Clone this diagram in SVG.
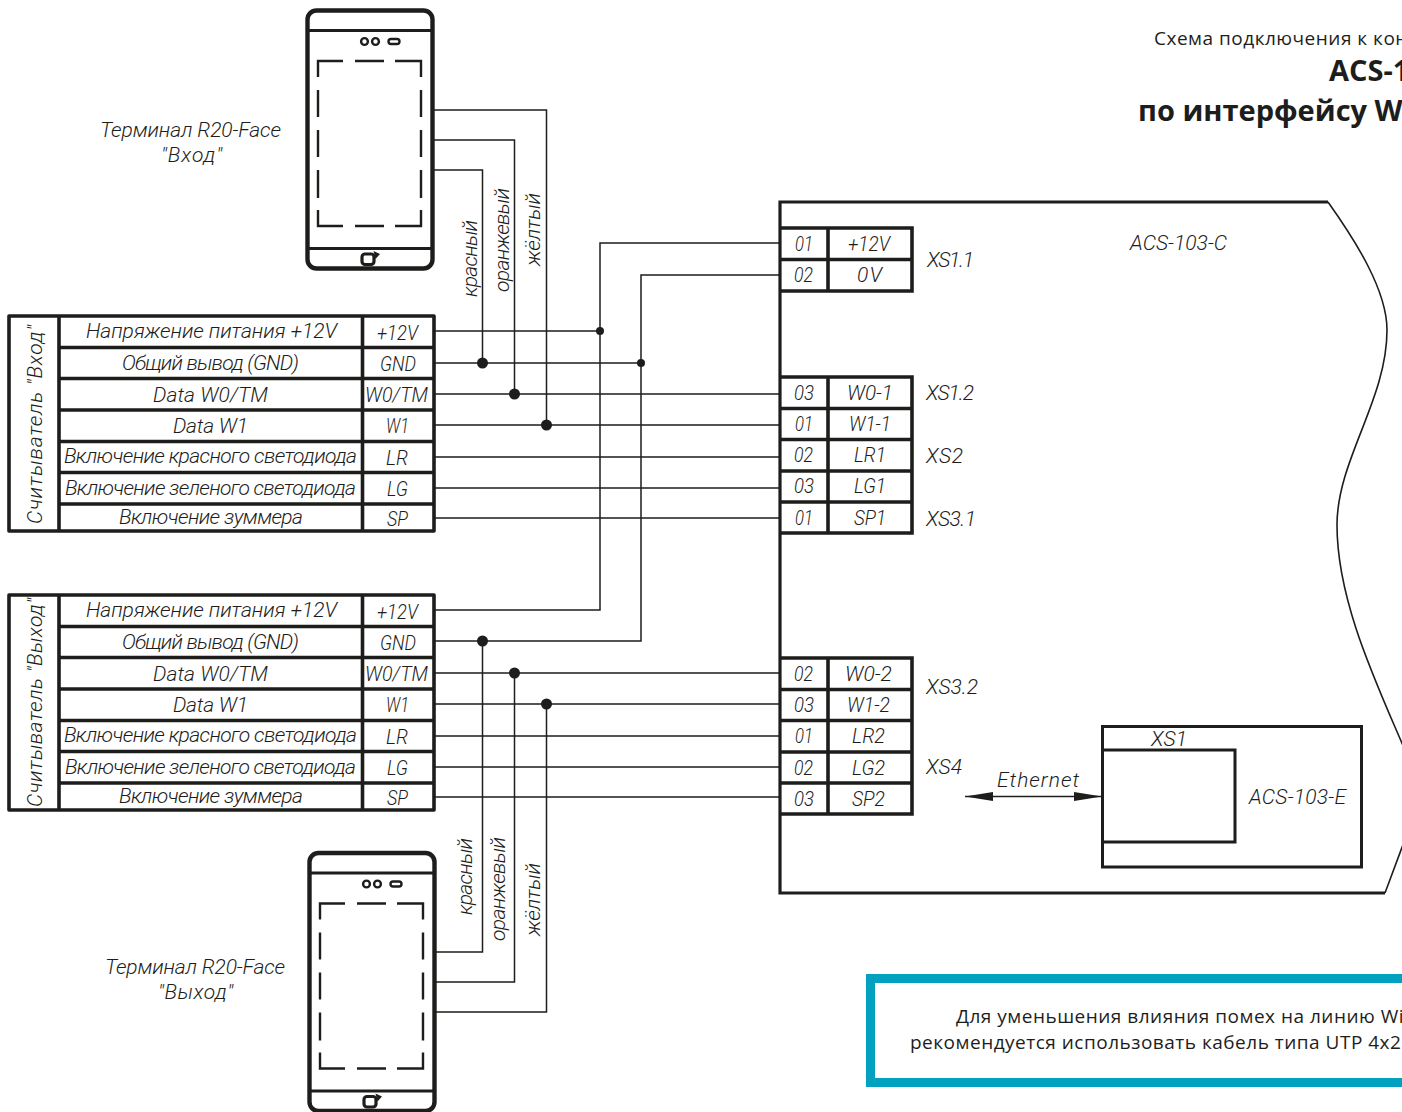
<svg xmlns="http://www.w3.org/2000/svg" width="1402" height="1112" viewBox="0 0 1402 1112">
<style>
.bg{fill:#fff}
.w{fill:none;stroke:#1d1d1b;stroke-width:1.5}
.t{fill:none;stroke:#1d1d1b;stroke-width:3.2}
.r{fill:none;stroke:#1d1d1b;stroke-width:3.6}
.b{fill:none;stroke:#1d1d1b;stroke-width:3.6;stroke-linejoin:round}
.d{fill:#1d1d1b}
text{fill:#1d1d1b}
.g{font-family:Roboto,"Liberation Sans",sans-serif;font-style:italic;font-weight:300;font-size:21px}
.h{font-family:"Open Sans","Noto Sans",sans-serif;font-size:19px;letter-spacing:.5px}
.hb{font-family:"Open Sans","Noto Sans",sans-serif;font-weight:700;font-size:29px}
</style>
<defs>
<marker id="ah" markerUnits="userSpaceOnUse" markerWidth="29" markerHeight="10" refX="28" refY="5" orient="auto-start-reverse"><path d="M0 0.500L28 5L0 9.500z" fill="#1d1d1b"/></marker>
<g id="phone">
<rect x="0" y="0" width="125" height="258" rx="9" fill="#fff" stroke="#1d1d1b" stroke-width="4.400"/>
<path d="M0 20H125M0 238H125" class="t"/>
<circle cx="57" cy="31" r="3.400" fill="none" stroke="#1d1d1b" stroke-width="2.400"/>
<circle cx="68" cy="31" r="3.400" fill="none" stroke="#1d1d1b" stroke-width="2.400"/>
<rect x="81" y="28.500" width="11" height="5" rx="2.500" fill="none" stroke="#1d1d1b" stroke-width="2.400"/>
<path d="M10.500 66.500V50.500H35.500M47.500 50.500H76.500M87.500 50.500H113.500V66.500M113.500 79.500V106.500M113.500 119.500V146.500M113.500 159.500V187.500M113.500 199.500V215.500H87.500M76.500 215.500H47.500M35.500 215.500H10.500V199.500M10.500 187.500V159.500M10.500 146.500V119.500M10.500 106.500V79.500" fill="none" stroke="#1d1d1b" stroke-width="2.400"/>
<rect x="54.500" y="243.500" width="12" height="10.500" rx="3" fill="none" stroke="#1d1d1b" stroke-width="3.200"/>
<path d="M66 240.500l6.500 3l-4.500 5z" class="d"/>
</g>
</defs>
<rect width="1402" height="1112" class="bg"/>

<g id="connectors">
<path class="w" d="M433 110H546.500V425M433 140H514.500V394M433 170H482.500V363"/>
<path class="w" d="M435 952H482.500V641M435 982H514.500V673M435 1012H546.500V704"/>
<path class="w" d="M434 331H600M434 363H641M434 394H780M434 425H780M434 457H780M434 488H780M434 518H780"/>
<path class="w" d="M434 610H600V243H780M434 641H641V275H780M434 673H780M434 704H780M434 736H780M434 767H780M434 797H780"/>
<circle class="d" cx="600" cy="331" r="4"/><circle class="d" cx="641" cy="363" r="4"/>
<circle class="d" cx="482.500" cy="363" r="5.500"/><circle class="d" cx="514.500" cy="394" r="5.500"/><circle class="d" cx="546.500" cy="425" r="5.500"/>
<circle class="d" cx="482.500" cy="641" r="5.500"/><circle class="d" cx="514.500" cy="673" r="5.500"/><circle class="d" cx="546.500" cy="704" r="5.500"/>
<path d="M965 796.500H1102" stroke="#1d1d1b" stroke-width="1.600" fill="none" marker-start="url(#ah)" marker-end="url(#ah)"/>
</g>

<g id="wire-labels" class="g">
<text transform="translate(477 297) rotate(-90)" textLength="77">красный</text>
<text transform="translate(509 292) rotate(-90)" textLength="104">оранжевый</text>
<text transform="translate(540 266) rotate(-90)" textLength="73">жёлтый</text>
<text transform="translate(472 915) rotate(-90)" textLength="77">красный</text>
<text transform="translate(505 941) rotate(-90)" textLength="104">оранжевый</text>
<text transform="translate(540 936) rotate(-90)" textLength="73">жёлтый</text>
</g>

<g id="terminal-in">
<use href="#phone" x="307.500" y="10.500"/>
<text class="g" x="100" y="137" textLength="181">Терминал R20-Face</text>
<text class="g" x="161" y="162" textLength="61">"Вход"</text>
</g>
<g id="terminal-out">
<use href="#phone" x="309.500" y="853"/>
<text class="g" x="105" y="974" textLength="180">Терминал R20-Face</text>
<text class="g" x="158" y="999" textLength="75">"Выход"</text>
</g>

<g id="reader-in">
<path class="b" d="M9 316H434V531H9z"/>
<path class="r" d="M59 316V531M362.500 316V531M59 347.500H434M59 378.500H434M59 410H434M59 441.500H434M59 472.500H434M59 504H434"/>
<text class="g" transform="translate(42 524) rotate(-90)" textLength="199">Считыватель  "Вход"</text>
<text class="g" x="86" y="338" textLength="251">Напряжение питания +12V</text>
<text class="g" x="122" y="370" textLength="177">Общий вывод (GND)</text>
<text class="g" x="153" y="402" textLength="115">Data W0/TM</text>
<text class="g" x="173" y="433" textLength="75">Data W1</text>
<text class="g" x="64" y="463" textLength="293">Включение красного светодиода</text>
<text class="g" x="65" y="495" textLength="291">Включение зеленого светодиода</text>
<text class="g" x="119" y="524" textLength="184">Включение зуммера</text>
<text class="g" x="377" y="340" textLength="41" lengthAdjust="spacingAndGlyphs">+12V</text>
<text class="g" x="380" y="371" textLength="36" lengthAdjust="spacingAndGlyphs">GND</text>
<text class="g" x="365" y="402" textLength="63" lengthAdjust="spacingAndGlyphs">W0/TM</text>
<text class="g" x="386" y="433" textLength="23" lengthAdjust="spacingAndGlyphs">W1</text>
<text class="g" x="386" y="465" textLength="22" lengthAdjust="spacingAndGlyphs">LR</text>
<text class="g" x="387" y="496" textLength="21" lengthAdjust="spacingAndGlyphs">LG</text>
<text class="g" x="387" y="526" textLength="21" lengthAdjust="spacingAndGlyphs">SP</text>
</g>

<g id="reader-out">
<path class="b" d="M9 595H434V810H9z"/>
<path class="r" d="M59 595V810M362.500 595V810M59 626.500H434M59 657.500H434M59 689H434M59 720.500H434M59 751.500H434M59 783H434"/>
<text class="g" transform="translate(42 807) rotate(-90)" textLength="209">Считыватель  "Выход"</text>
<text class="g" x="86" y="617" textLength="251">Напряжение питания +12V</text>
<text class="g" x="122" y="649" textLength="177">Общий вывод (GND)</text>
<text class="g" x="153" y="681" textLength="115">Data W0/TM</text>
<text class="g" x="173" y="712" textLength="75">Data W1</text>
<text class="g" x="64" y="742" textLength="293">Включение красного светодиода</text>
<text class="g" x="65" y="774" textLength="291">Включение зеленого светодиода</text>
<text class="g" x="119" y="803" textLength="184">Включение зуммера</text>
<text class="g" x="377" y="619" textLength="41" lengthAdjust="spacingAndGlyphs">+12V</text>
<text class="g" x="380" y="650" textLength="36" lengthAdjust="spacingAndGlyphs">GND</text>
<text class="g" x="365" y="681" textLength="63" lengthAdjust="spacingAndGlyphs">W0/TM</text>
<text class="g" x="386" y="712" textLength="23" lengthAdjust="spacingAndGlyphs">W1</text>
<text class="g" x="386" y="744" textLength="22" lengthAdjust="spacingAndGlyphs">LR</text>
<text class="g" x="387" y="775" textLength="21" lengthAdjust="spacingAndGlyphs">LG</text>
<text class="g" x="387" y="805" textLength="21" lengthAdjust="spacingAndGlyphs">SP</text>
</g>

<g id="controller">
<path fill="none" stroke="#1d1d1b" stroke-width="3.200" d="M1328 202H780V893H1385"/>
<path fill="none" stroke="#1d1d1b" stroke-width="1.600" d="M1328 202C1355 240 1387 290 1387 330C1387 400 1337 460 1337 525C1337 600 1375 680 1404 748M1385 893L1404 842"/>
<text class="g" x="1130" y="250" textLength="97">ACS-103-C</text>
</g>

<g id="xs1">
<path class="r" d="M781 228H912V291H781M781 259.500H912M828 228V291"/>
<text class="g" x="795" y="251" textLength="18" lengthAdjust="spacingAndGlyphs">01</text><text class="g" x="848" y="251" textLength="42" lengthAdjust="spacingAndGlyphs">+12V</text>
<text class="g" x="794" y="282" textLength="19" lengthAdjust="spacingAndGlyphs">02</text><text class="g" x="857" y="282" textLength="25">0V</text>
<text class="g" x="927" y="267" textLength="47">XS1.1</text>
</g>
<g id="xs2">
<path class="r" d="M781 377H912V533H781M781 408.500H912M781 439.500H912M781 471H912M781 502H912M828 377V533"/>
<text class="g" x="794" y="400" textLength="20" lengthAdjust="spacingAndGlyphs">03</text><text class="g" x="847" y="400" textLength="46" lengthAdjust="spacingAndGlyphs">W0-1</text>
<text class="g" x="795" y="431" textLength="18" lengthAdjust="spacingAndGlyphs">01</text><text class="g" x="849" y="431" textLength="42" lengthAdjust="spacingAndGlyphs">W1-1</text>
<text class="g" x="794" y="462" textLength="19" lengthAdjust="spacingAndGlyphs">02</text><text class="g" x="854" y="462" textLength="32" lengthAdjust="spacingAndGlyphs">LR1</text>
<text class="g" x="794" y="493" textLength="20" lengthAdjust="spacingAndGlyphs">03</text><text class="g" x="854" y="493" textLength="32" lengthAdjust="spacingAndGlyphs">LG1</text>
<text class="g" x="795" y="525" textLength="18" lengthAdjust="spacingAndGlyphs">01</text><text class="g" x="854" y="525" textLength="32" lengthAdjust="spacingAndGlyphs">SP1</text>
<text class="g" x="926" y="400" textLength="48">XS1.2</text>
<text class="g" x="926" y="463" textLength="37">XS2</text>
<text class="g" x="926" y="526" textLength="50">XS3.1</text>
</g>
<g id="xs3">
<path class="r" d="M781 658H912V814H781M781 689.500H912M781 720.500H912M781 752H912M781 783H912M828 658V814"/>
<text class="g" x="794" y="681" textLength="19" lengthAdjust="spacingAndGlyphs">02</text><text class="g" x="845" y="681" textLength="47" lengthAdjust="spacingAndGlyphs">W0-2</text>
<text class="g" x="794" y="712" textLength="20" lengthAdjust="spacingAndGlyphs">03</text><text class="g" x="847" y="712" textLength="43" lengthAdjust="spacingAndGlyphs">W1-2</text>
<text class="g" x="795" y="743" textLength="18" lengthAdjust="spacingAndGlyphs">01</text><text class="g" x="852" y="743" textLength="33" lengthAdjust="spacingAndGlyphs">LR2</text>
<text class="g" x="794" y="775" textLength="19" lengthAdjust="spacingAndGlyphs">02</text><text class="g" x="852" y="775" textLength="33" lengthAdjust="spacingAndGlyphs">LG2</text>
<text class="g" x="794" y="806" textLength="20" lengthAdjust="spacingAndGlyphs">03</text><text class="g" x="852" y="806" textLength="33" lengthAdjust="spacingAndGlyphs">SP2</text>
<text class="g" x="926" y="694" textLength="52">XS3.2</text>
<text class="g" x="926" y="774" textLength="36">XS4</text>
</g>
<g id="acs-103-e">
<path class="t" style="stroke-width:3" d="M1102.500 726.500H1361.500V867H1102.500zM1102.500 750H1235V842H1102.500"/>
<text class="g" x="1151" y="746" textLength="36">XS1</text>
<text class="g" x="1249" y="804" textLength="97">ACS-103-E</text>
<text class="g" x="997" y="787" textLength="82">Ethernet</text>
</g>

<g id="title">
<text class="h" x="1154" y="45">Схема подключения к кон</text>
<text class="hb" x="1329" y="81">ACS-1</text>
<text class="hb" x="1138" y="121">по интерфейсу W</text>
</g>

<g id="note">
<rect x="870.500" y="978.500" width="600" height="104" fill="#fff" stroke="#03a1c0" stroke-width="9"/>
<text class="h" x="956" y="1023">Для уменьшения влияния помех на линию Wi</text>
<text class="h" x="910" y="1049">рекомендуется использовать кабель типа UTP 4x2</text>
</g>
</svg>
